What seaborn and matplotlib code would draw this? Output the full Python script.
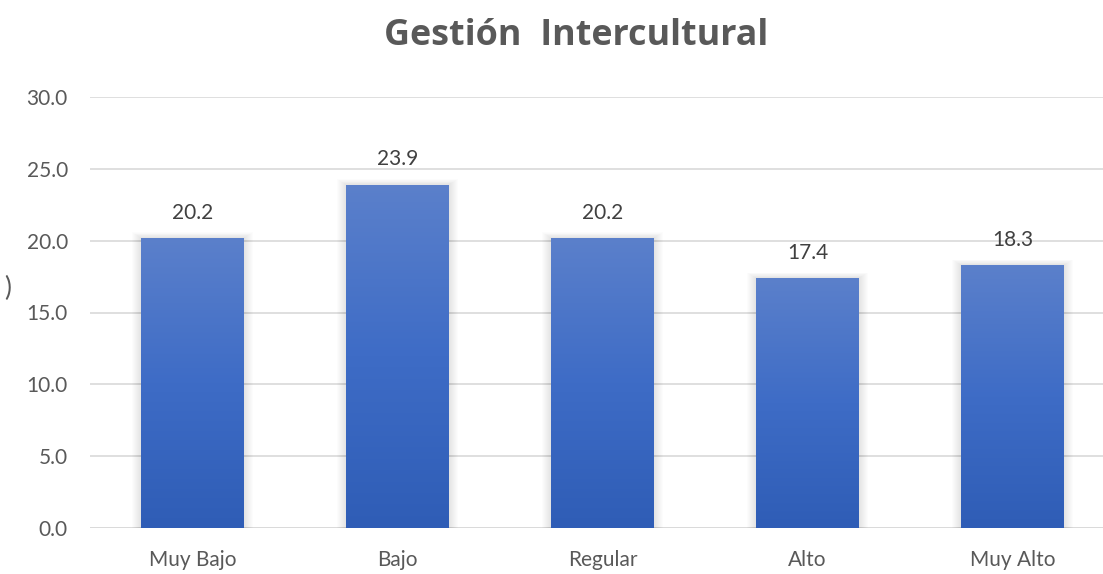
import numpy as np
import pandas as pd
import matplotlib
matplotlib.use("Agg")
import matplotlib.pyplot as plt
from matplotlib.patches import Rectangle
from matplotlib.colors import LinearSegmentedColormap
import seaborn as sns

categories = ["Muy Bajo", "Bajo", "Regular", "Alto", "Muy Alto"]
values = [20.2, 23.9, 20.2, 17.4, 18.3]
y_ticks = [0, 5, 10, 15, 20, 25, 30]
title = "Gestión  Intercultural"

sns.set_theme(style="white")
plt.rcParams["font.family"] = ["Lato", "DejaVu Sans"]

W, H = 1103, 574
fig = plt.figure(figsize=(W / 100, H / 100), dpi=100)
ax_left, ax_right = 90, 1103
ax_bottom, ax_top = 528, 97
ax = fig.add_axes([ax_left / W, (H - ax_bottom) / H,
                   (ax_right - ax_left) / W, (ax_bottom - ax_top) / H])

df = pd.DataFrame({"cat": categories, "val": values})
sns.barplot(data=df, x="cat", y="val", ax=ax, width=0.5,
            color="#4472C4", saturation=1, zorder=3)

slot_px = 205
ax.set_xlim(-0.5, -0.5 + (ax_right - ax_left) / slot_px)
ax.set_ylim(0, 30)
ax.set_yticks(y_ticks)
ax.set_yticklabels([f"{t:.1f}" for t in y_ticks])
ax.yaxis.grid(True, color="#D9D9D9", linewidth=1.2, zorder=0)
ax.set_axisbelow(True)
for s in ax.spines.values():
    s.set_visible(False)
ax.tick_params(axis="both", length=0, labelsize=15, colors="#595959")
ax.tick_params(axis="y", pad=16)
ax.tick_params(axis="x", pad=16)
ax.set_xlabel("")
ax.set_ylabel("")

px_x = slot_px
px_y = (ax_bottom - ax_top) / 30.0
cmap = LinearSegmentedColormap.from_list("bar", ["#2F5DB6", "#3E6CC6", "#5B80CB"])
grad = np.linspace(0, 1, 256).reshape(-1, 1)

for patch, v in zip(list(ax.patches), values):
    x0 = patch.get_x()
    w = patch.get_width()
    # soft glow around each bar
    for i in range(1, 10):
        ax.add_patch(Rectangle((x0 - i / px_x, 0), w + 2 * i / px_x, v + 0.6 * i / px_y,
                               facecolor="black", edgecolor="none", alpha=0.011, zorder=2))
    patch.set_facecolor("none")
    patch.set_edgecolor("none")
    im = ax.imshow(grad, cmap=cmap, origin="lower", aspect="auto",
                   extent=(x0, x0 + w, 0, v), zorder=4, interpolation="bilinear")
    im.set_clip_path(patch)
    ax.annotate(f"{v:.1f}", (x0 + w / 2, v), xytext=(0, 11), textcoords="offset points",
                ha="center", va="bottom", fontsize=15, color="#404040", zorder=5)

ax.set_xlim(-0.5, -0.5 + (ax_right - ax_left) / slot_px)
ax.set_ylim(0, 30)
ax.axhline(0, color="#D9D9D9", linewidth=1.2, zorder=1)

fig.text(576 / W, 1 - 36 / H, title, ha="center", va="center",
         fontsize=25.8, fontweight="bold", color="#595959", family=["Open Sans", "DejaVu Sans"])
fig.text(4 / W, 1 - 288 / H, ")", ha="left", va="center", fontsize=19, color="#595959")

fig.savefig("out.png", dpi=100)
